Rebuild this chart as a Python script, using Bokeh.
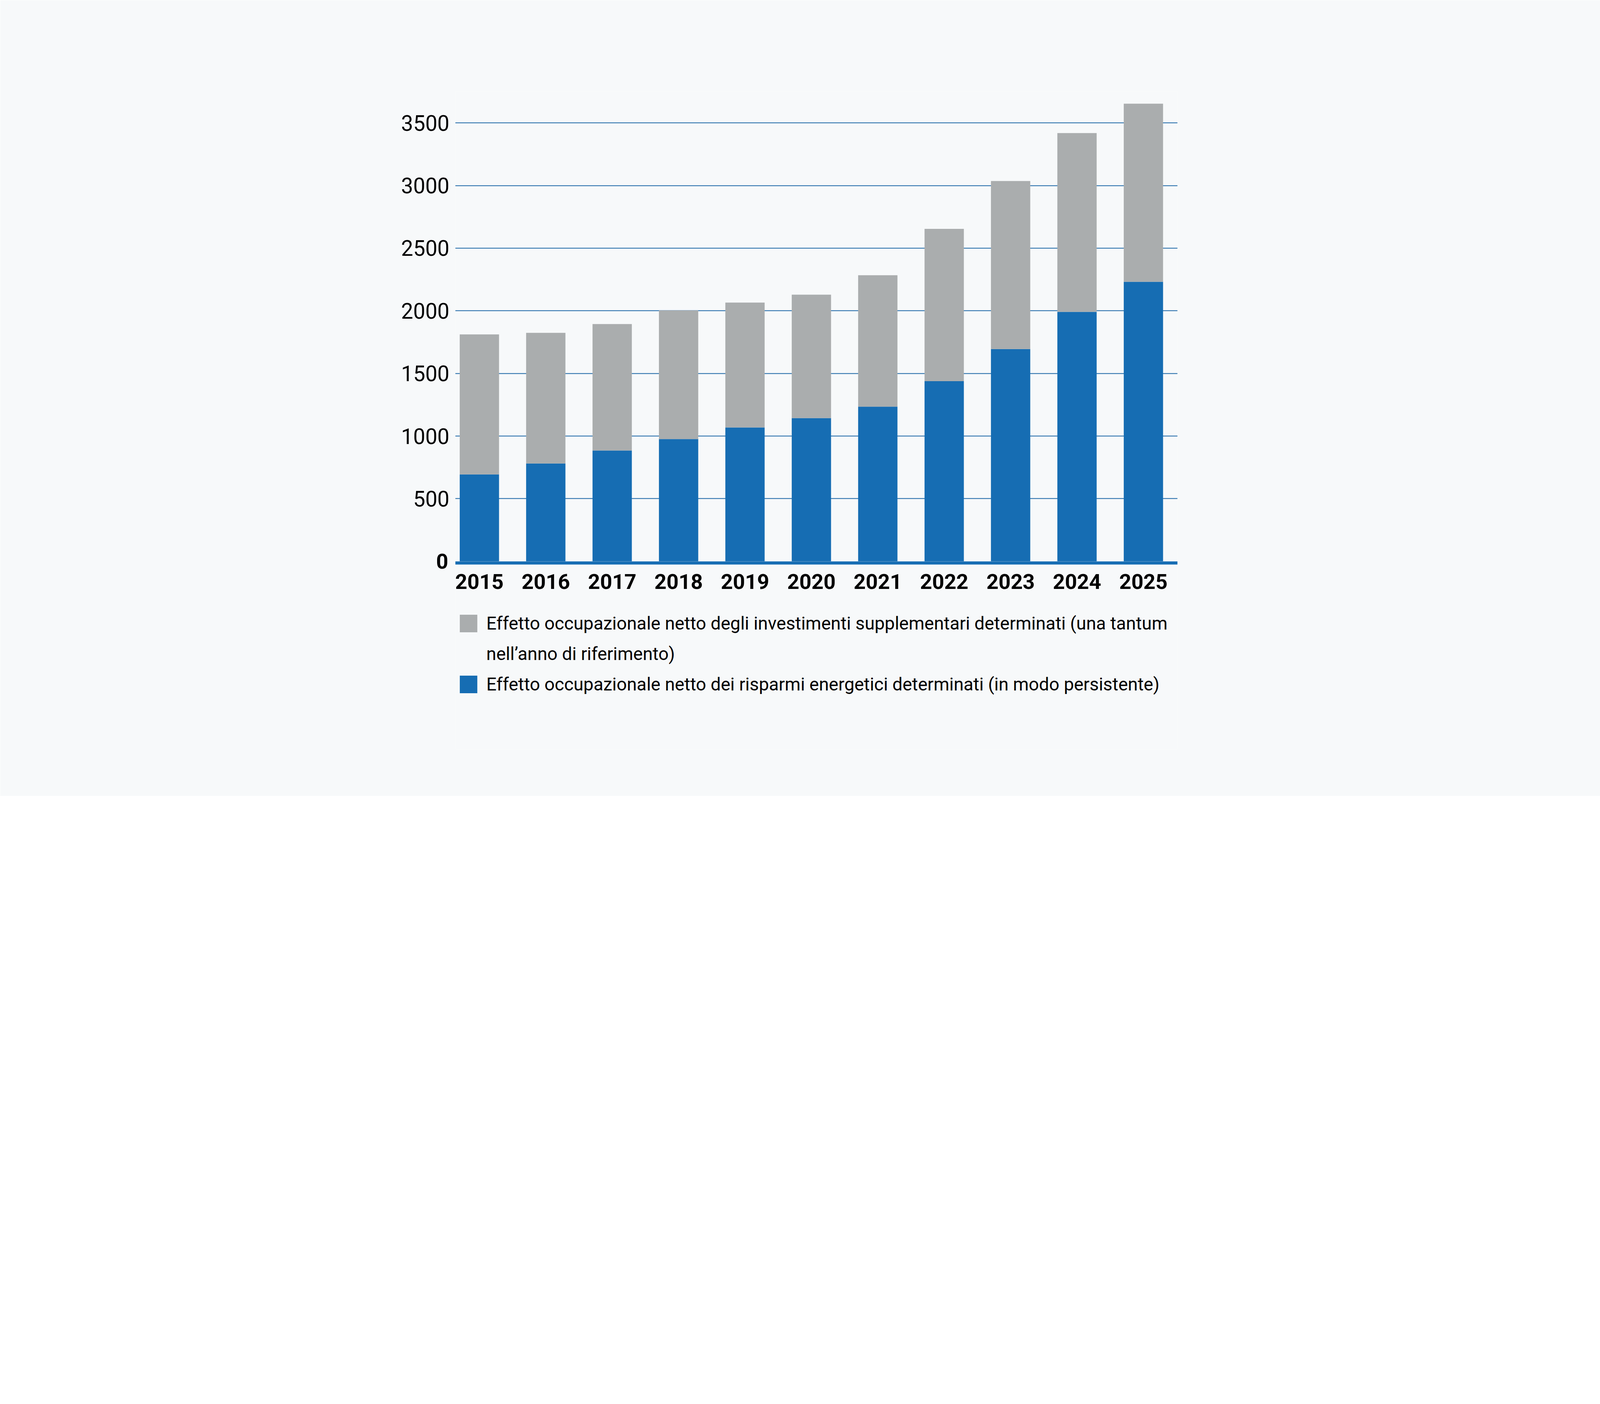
from bokeh.plotting import figure
from bokeh.models import (ColumnDataSource, Range1d, FixedTicker, Legend, LegendItem, LinearAxis)
from bokeh.embed import file_html
from bokeh.resources import INLINE

# ---- data ----
years = ["2015", "2016", "2017", "2018", "2019", "2020", "2021", "2022", "2023", "2024", "2025"]
risparmi = [694, 781, 885, 976, 1069, 1144, 1235, 1438, 1695, 1992, 2232]        # blue, persistent
investimenti = [1118, 1043, 1009, 1027, 997, 985, 1049, 1216, 1341, 1427, 1421]  # gray, una tantum
y_ticks = [500, 1000, 1500, 2000, 2500, 3000, 3500]
zero_tick = [0]
label_inv_1 = "Effetto occupazionale netto degli investimenti supplementari determinati (una tantum"
label_inv_2 = "nell\u2019anno di riferimento)"
label_ris = "Effetto occupazionale netto dei risparmi energetici determinati (in modo persistente)"

BG = "#f7f9fa"
BLUE = "#166db3"
GRAY = "#aaadae"
GRID = "#1865a5"
FONT = "Roboto"

idx = list(range(len(years)))
src = ColumnDataSource(dict(x=idx, blue=risparmi, gray=investimenti, year=years))

p = figure(frame_width=1849, frame_height=1684,
           min_border_left=1165, min_border_right=1084,
           min_border_top=234, min_border_bottom=120,
           x_range=Range1d(-0.363, 10.514), y_range=Range1d(-1500, 3750),
           output_backend="svg", toolbar_location=None,
           background_fill_color=BG, border_fill_color=BG)
p.outline_line_color = None

rs = p.vbar_stack(["blue", "gray"], x="x", width=0.592, color=[BLUE, GRAY],
                  line_color=None, source=src)
blue_r, gray_r = rs
# invisible renderer for the continuation line of the first legend entry
blank_r = p.vbar(x=[], top=[], width=0.5, fill_alpha=0, line_alpha=0)

# x axis, drawn just under the zero line
p.xaxis.fixed_location = -12.5
p.xaxis.ticker = FixedTicker(ticks=idx)
p.xaxis.major_label_overrides = {i: y for i, y in zip(idx, years)}
p.xaxis.major_tick_line_color = None
p.xaxis.major_tick_out = 0
p.xaxis.minor_tick_line_color = None
p.xaxis.axis_line_color = BLUE
p.xaxis.axis_line_width = 8
p.xaxis.major_label_text_font = FONT
p.xaxis.major_label_text_font_style = "bold"
p.xaxis.major_label_text_font_size = "54px"
p.xaxis.major_label_text_color = "#000000"
p.xaxis.major_label_standoff = 29

# y axis (regular labels)
p.yaxis.ticker = FixedTicker(ticks=y_ticks)
p.yaxis.axis_line_color = None
p.yaxis.major_tick_line_color = None
p.yaxis.major_tick_out = 0
p.yaxis.minor_tick_line_color = None
p.yaxis.major_label_text_font = FONT
p.yaxis.major_label_text_font_size = "55px"
p.yaxis.major_label_text_color = "#000000"
p.yaxis.major_label_standoff = 15

# bold zero label on its own axis, shifted onto the main label column
zaxis = LinearAxis(ticker=FixedTicker(ticks=zero_tick), axis_line_color=None,
                   major_tick_line_color=None, major_tick_out=0, minor_tick_line_color=None,
                   major_label_text_font=FONT, major_label_text_font_style="bold",
                   major_label_text_font_size="54px", major_label_text_color="#000000",
                   major_label_standoff=-124)
p.add_layout(zaxis, "left")

p.xgrid.grid_line_color = None
p.ygrid.ticker = FixedTicker(ticks=y_ticks)
p.ygrid.grid_line_color = GRID
p.ygrid.grid_line_width = 2

legend = Legend(items=[LegendItem(label=label_inv_1, renderers=[gray_r]),
                       LegendItem(label=label_inv_2, renderers=[blank_r]),
                       LegendItem(label=label_ris, renderers=[blue_r])],
                location=(6, 138), orientation="vertical",
                glyph_width=56, glyph_height=56, label_height=56, label_standoff=18,
                label_text_font=FONT, label_text_font_size="46px",
                label_text_color="#000000",
                spacing=22, padding=0, margin=0,
                border_line_color=None, background_fill_alpha=0)
p.add_layout(legend, "center")

open("out.html", "w").write(file_html(p, INLINE))
